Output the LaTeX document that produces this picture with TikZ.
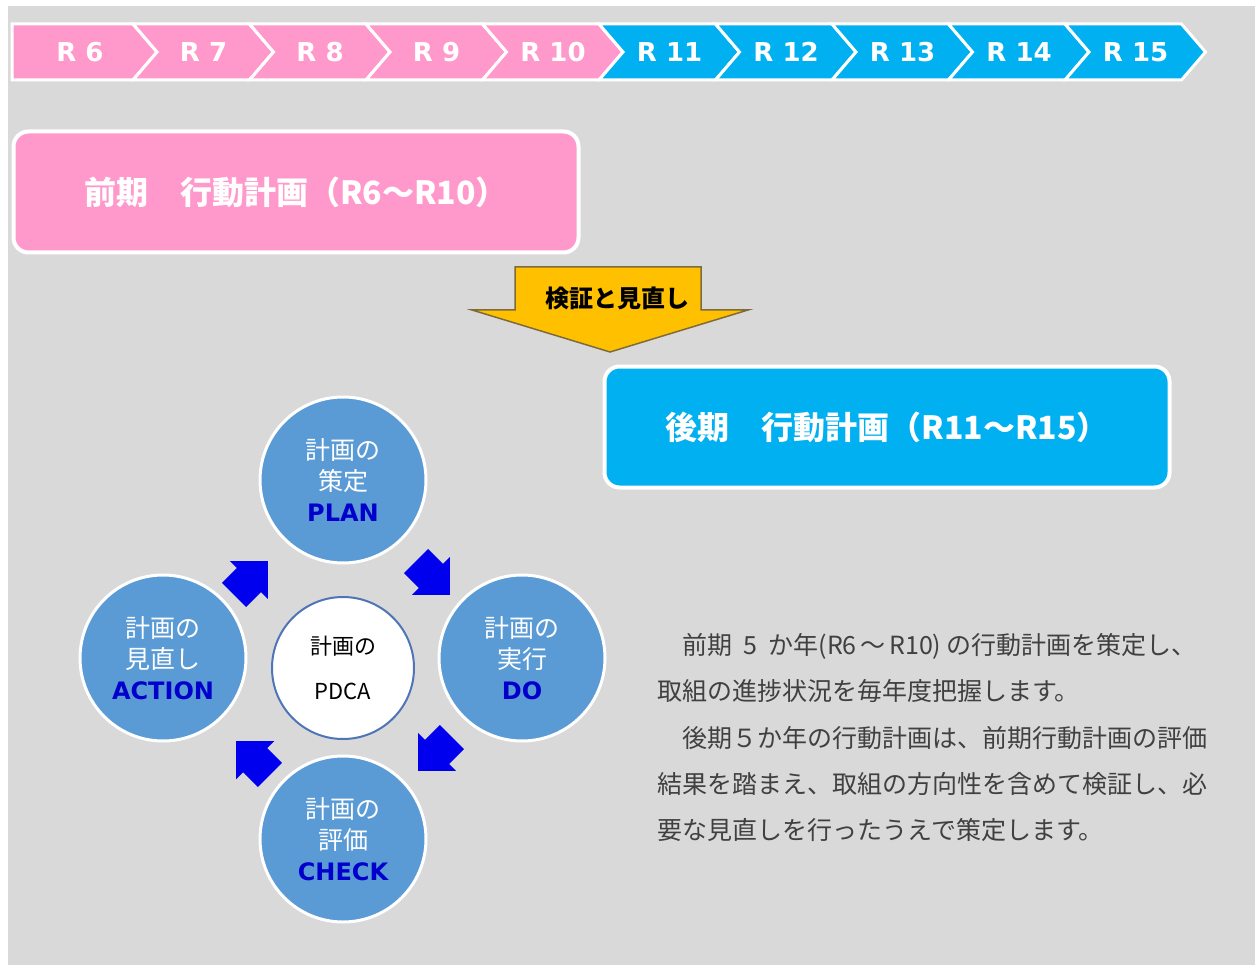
\documentclass[tikz,border=0pt]{standalone}
\usepackage{fontspec}
\setmainfont{Noto Sans CJK JP}
\newfontfamily\verd{DejaVu Sans}
\usetikzlibrary{calc}
\definecolor{bandpink}{HTML}{FF99CC}
\definecolor{bandblue}{HTML}{00B0F0}
\definecolor{canvasgray}{HTML}{D9D9D9}
\definecolor{circleblue}{HTML}{5B9BD5}
\definecolor{labelblue}{HTML}{0000CC}
\definecolor{cyclearrow}{HTML}{0000EE}
\definecolor{centerring}{HTML}{4F74B8}
\definecolor{verifyfill}{HTML}{FFC000}
\definecolor{verifyline}{HTML}{7F6A3A}
\definecolor{bodytext}{HTML}{404040}
\newcommand\stagename[1]{{\color{labelblue}\verd\bfseries\fontsize{24}{31}\selectfont #1}}

\begin{document}
\begin{tikzpicture}[x=1pt,y=-1pt,
  yearchev/.style={draw=white,line width=3pt,line join=miter},
  yearlabel/.style={text=white,font=\verd\bfseries\fontsize{26}{30}\selectfont},
  phasebox/.style={rounded corners=15pt,draw=white,line width=4pt,
    minimum width=565pt,minimum height=121pt,text=white,
    font=\bfseries\fontsize{32}{38}\selectfont},
  stagecircle/.style={circle,fill=circleblue,draw=white,line width=3pt,
    minimum size=166pt,inner sep=0pt,align=center,text=white,
    font=\fontsize{25}{31}\selectfont},
  cyclearr/.style={fill=cyclearrow},
  bodyline/.style={anchor=base west,inner sep=0pt,text=bodytext,
    font=\fontsize{25}{28}\selectfont}
]
  \useasboundingbox (0,0) rectangle (1255,965);
  \fill[white] (0,0) rectangle (1255,965);
  \fill[canvasgray] (8,6) rectangle (1255,965);

  % year chevrons
  \foreach \k/\col in {0/bandpink,1/bandpink,2/bandpink,3/bandpink,4/bandpink,
                       5/bandblue,6/bandblue,7/bandblue,8/bandblue,9/bandblue} {
    \pgfmathsetmacro\xr{133+116.5*\k}
    \pgfmathsetmacro\xl{\k==0 ? 12 : \xr-116.5}
    \pgfmathsetmacro\notch{\k==0 ? 0 : 24}
    \pgfmathtruncatemacro\yr{6+\k}
    \filldraw[yearchev,fill=\col]
      (\xl,24) -- (\xr,24) -- (\xr+24,52) -- (\xr,80) -- (\xl,80)
      -- (\xl+\notch,52) -- cycle;
    \node[yearlabel] (year\yr) at ({(\xl+\xr)/2+7.5+0.2*\notch},52) {R \yr};
  }

  % the two phases
  \node[phasebox,fill=bandpink] (early) at (296,192) {前期　行動計画（R6～R10）};
  \node[phasebox,fill=bandblue] (late) at (887,427) {後期　行動計画（R11～R15）};

  % review arrow
  \filldraw[fill=verifyfill,draw=verifyline,line width=1.5pt,line join=miter]
    (515,267) -- (701,267) -- (701,310) -- (748,310) -- (610,352)
    -- (472,310) -- (515,310) -- cycle;
  \node[font=\bfseries\fontsize{24}{28}\selectfont] (verify) at (617,298) {検証と見直し};

  % PDCA cycle
  \node[stagecircle] (plan) at (343,480) {計画の\\策定\\\stagename{PLAN}};
  \node[stagecircle] (do) at (522,658) {計画の\\実行\\\stagename{DO}};
  \node[stagecircle] (check) at (343,839) {計画の\\評価\\\stagename{CHECK}};
  \node[stagecircle] (action) at (163,658) {計画の\\見直し\\\stagename{ACTION}};
  \node[circle,fill=white,draw=centerring,line width=2pt,minimum size=142pt,
    inner sep=0pt,align=center,font=\fontsize{22}{45}\selectfont]
    (pdca) at (343,668) {計画の\\PDCA};

  \foreach \nm/\dx/\dy/\ang in {plantodo/90/-90/-45,dotocheck/92/86/-135,
                                checktoaction/-90/90/135,actiontoplan/-92/-90/45} {
    \coordinate (\nm) at ($(pdca)+(\dx,\dy)$);
    \fill[cyclearr,shift={(\nm)},rotate=\ang]
      (-24,-17) -- (-3,-17) -- (-3,-27) -- (24,0) -- (-3,27) -- (-3,17)
      -- (-24,17) -- cycle;
  }

  % explanation
  \node[bodyline] (line1) at (657,654)
    {　前期\hspace{0.45em}5\hspace{0.45em}か年(R6\hspace{0.15em}～\hspace{0.15em}R10)\hspace{0.2em}の行動計画を策定し、};
  \node[bodyline] (line2) at (657,700) {取組の進捗状況を毎年度把握します。};
  \node[bodyline] (line3) at (657,747) {　後期５か年の行動計画は、前期行動計画の評価};
  \node[bodyline] (line4) at (657,793) {結果を踏まえ、取組の方向性を含めて検証し、必};
  \node[bodyline] (line5) at (657,839) {要な見直しを行ったうえで策定します。};
\end{tikzpicture}
\end{document}
